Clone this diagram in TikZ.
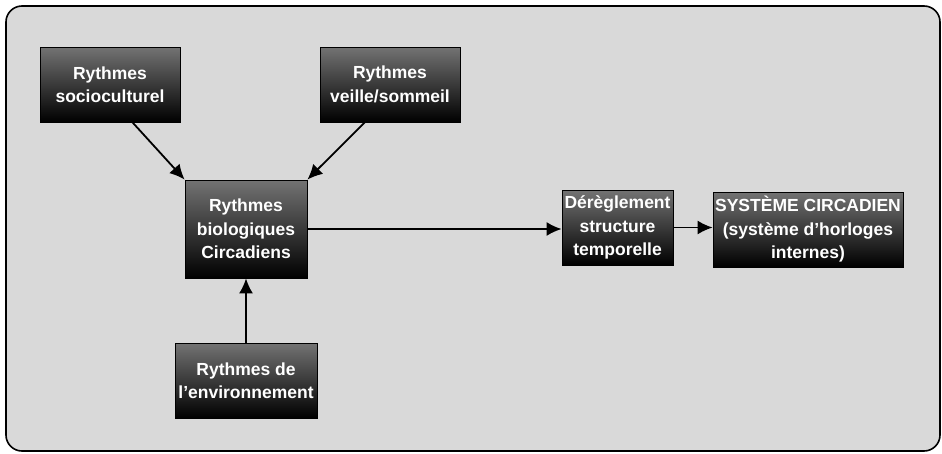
\documentclass[tikz,border=0pt]{standalone}
\usepackage{fontspec}
\setmainfont{Liberation Sans}
\usetikzlibrary{arrows.meta,calc}
\tikzset{
  darkbox/.style={draw=black, line width=0.8pt, left color=black!55, right color=black, shading angle=0,
    text=white, font=\fontsize{17.5}{23.5}\selectfont\bfseries, align=center, inner sep=0pt},
  conn/.style={line width=1.8pt, -{Latex[length=15pt,width=14pt]}}
}
\begin{document}
\begin{tikzpicture}[x=1pt,y=-1pt]
\useasboundingbox (0,0) rectangle (942,453);
\draw[line width=1.6pt, rounded corners=16pt, fill=black!15] (6,6) rectangle (940,451);
\node[darkbox, minimum width=140pt, minimum height=75pt] (b1) at (110,84.5) {Rythmes\\socioculturel};
\node[darkbox, minimum width=140pt, minimum height=75pt] (b2) at (390,84.5) {Rythmes\\veille/sommeil};
\node[darkbox, minimum width=122pt, minimum height=98pt] (b3) at (246,229) {Rythmes\\biologiques\\Circadiens};
\node[darkbox, minimum width=111pt, minimum height=75pt] (b4) at (617.5,227.5) {Dérèglement\\structure\\temporelle};
\node[darkbox, minimum width=190pt, minimum height=75pt] (b5) at (808,229.5) {SYSTÈME CIRCADIEN\\(système d'horloges\\internes)};
\node[darkbox, minimum width=142pt, minimum height=75pt] (b6) at (246,380.5) {Rythmes de\\l'environnement};
\draw[conn] ($(b1.south west)!0.66!(b1.south east)$) -- (b3.north west);
\draw[conn] ($(b2.south west)!0.32!(b2.south east)$) -- (b3.north east);
\draw[conn] (b6.north) -- (b3.south);
\draw[conn] (b3.east) -- (b4.west |- b3.east);
\draw[conn] (b4.east) -- (b5.west |- b4.east);
\end{tikzpicture}
\end{document}
